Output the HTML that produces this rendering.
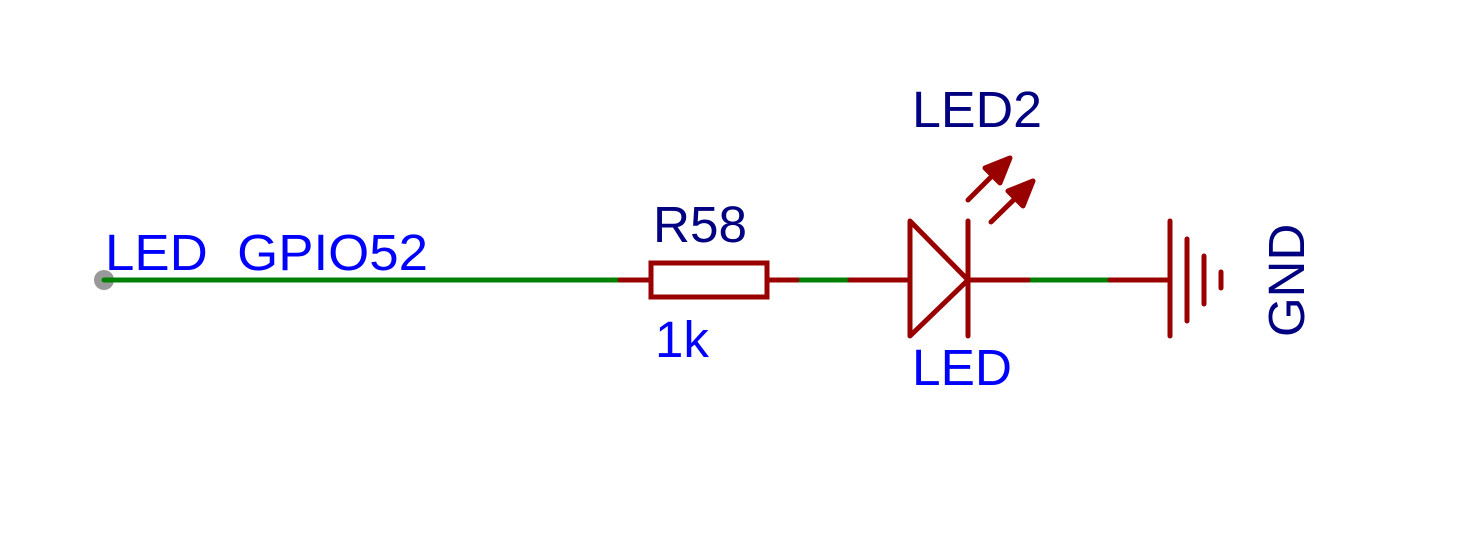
<!DOCTYPE html>
<html><head><style>html,body{margin:0;padding:0;background:#fff;}svg{display:block}</style></head>
<body>
<svg width="1480" height="551" viewBox="0 0 1480 551" xmlns="http://www.w3.org/2000/svg" font-family="Liberation Sans, sans-serif">
<g stroke-linecap="round" stroke-width="5" fill="none">
<line x1="104" y1="280" x2="620" y2="280" stroke="#008000"/>
<line x1="797" y1="280" x2="850" y2="280" stroke="#008000"/>
<line x1="1028" y1="280" x2="1110" y2="280" stroke="#008000"/>
<g stroke="#990000">
<line x1="620" y1="280" x2="651" y2="280"/>
<rect x="651" y="263" width="116" height="34"/>
<line x1="767" y1="280" x2="797" y2="280"/>
<line x1="850" y1="280" x2="910" y2="280"/>
<polygon points="910,221 910,336 968,280" stroke-linejoin="round"/>
<line x1="968" y1="221" x2="968" y2="336"/>
<line x1="968" y1="280" x2="1028" y2="280"/>
<line x1="1110" y1="280" x2="1170" y2="280"/>
<line x1="1170" y1="221" x2="1170" y2="336"/>
<line x1="1187" y1="239" x2="1187" y2="321"/>
<line x1="1204" y1="256" x2="1204" y2="304"/>
<line x1="1221" y1="272" x2="1221" y2="288"/>
<line x1="968" y1="200" x2="1007" y2="161"/>
<polygon points="1010,158 985,168 1000,183" fill="#990000" stroke-linejoin="round"/>
<line x1="991" y1="222" x2="1030" y2="184"/>
<polygon points="1033,181 1008,191 1023,206" fill="#990000" stroke-linejoin="round"/>
</g>
</g>
<circle cx="104" cy="280" r="10" fill="#999"/>
<line x1="104" y1="280" x2="114" y2="280" stroke="#008000" stroke-width="5" stroke-linecap="round"/>
<g font-size="51">
<text x="105" y="270" fill="#0000ff" xml:space="preserve" textLength="323" lengthAdjust="spacingAndGlyphs">LED  GPIO52</text>
<text x="653" y="242" fill="#000080" textLength="94" lengthAdjust="spacingAndGlyphs">R58</text>
<text x="655" y="357" fill="#0000ff">1k</text>
<text x="912" y="385" fill="#0000ff" textLength="100" lengthAdjust="spacingAndGlyphs">LED</text>
<text x="912" y="127" fill="#000080" textLength="130" lengthAdjust="spacingAndGlyphs">LED2</text>
<text transform="translate(1304,337) rotate(-90)" fill="#000080">GND</text>
</g>
</svg>
</body></html>
